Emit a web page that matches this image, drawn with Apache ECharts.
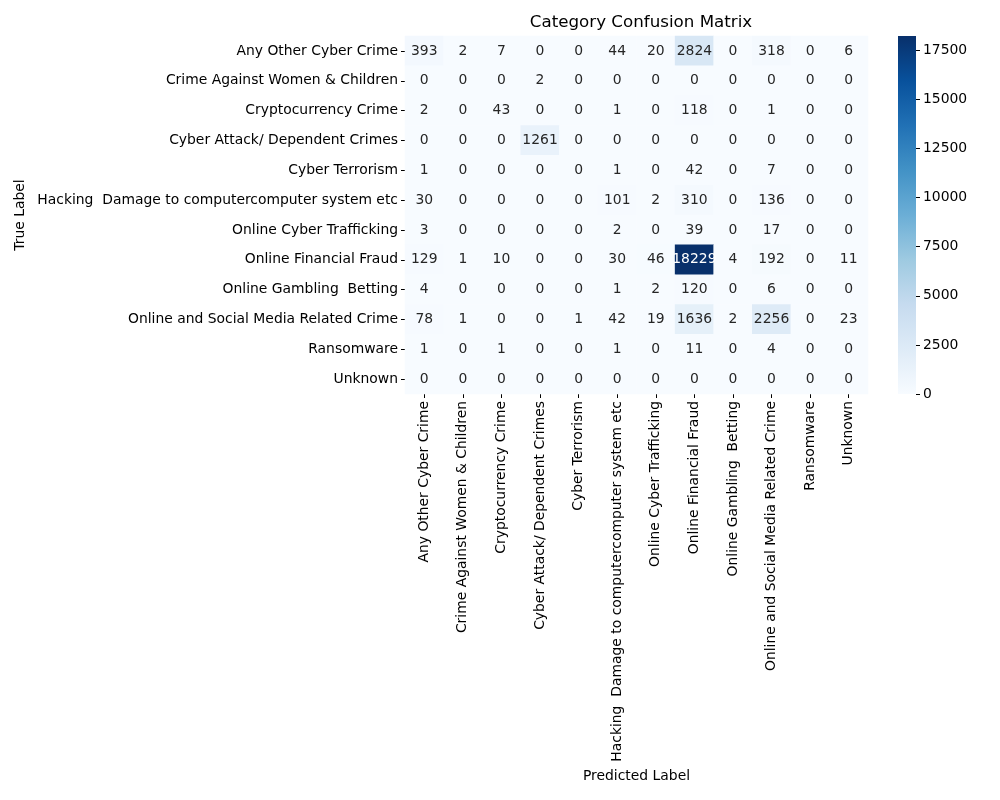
<!DOCTYPE html>
<html>
<head>
<meta charset="utf-8">
<script src="https://cdn.jsdelivr.net/npm/echarts@6/dist/echarts.min.js"></script>
<style>html,body{margin:0;padding:0;background:#fff}#chart{width:1000px;height:800px}</style>
</head>
<body>
<div id="chart"></div>
<script>
const categories = [
  'Any Other Cyber Crime',
  'Crime Against Women & Children',
  'Cryptocurrency Crime',
  'Cyber Attack/ Dependent Crimes',
  'Cyber Terrorism',
  'Hacking  Damage to computercomputer system etc',
  'Online Cyber Trafficking',
  'Online Financial Fraud',
  'Online Gambling  Betting',
  'Online and Social Media Related Crime',
  'Ransomware',
  'Unknown'
];
const rowAnyOther   = [393, 2, 7, 0, 0, 44, 20, 2824, 0, 318, 0, 6];
const rowWomenChild = [0, 0, 0, 2, 0, 0, 0, 0, 0, 0, 0, 0];
const rowCrypto     = [2, 0, 43, 0, 0, 1, 0, 118, 0, 1, 0, 0];
const rowAttack     = [0, 0, 0, 1261, 0, 0, 0, 0, 0, 0, 0, 0];
const rowTerror     = [1, 0, 0, 0, 0, 1, 0, 42, 0, 7, 0, 0];
const rowHacking    = [30, 0, 0, 0, 0, 101, 2, 310, 0, 136, 0, 0];
const rowTraffick   = [3, 0, 0, 0, 0, 2, 0, 39, 0, 17, 0, 0];
const rowFinancial  = [129, 1, 10, 0, 0, 30, 46, 18229, 4, 192, 0, 11];
const rowGambling   = [4, 0, 0, 0, 0, 1, 2, 120, 0, 6, 0, 0];
const rowSocial     = [78, 1, 0, 0, 1, 42, 19, 1636, 2, 2256, 0, 23];
const rowRansom     = [1, 0, 1, 0, 0, 1, 0, 11, 0, 4, 0, 0];
const rowUnknown    = [0, 0, 0, 0, 0, 0, 0, 0, 0, 0, 0, 0];
const counts = [rowAnyOther, rowWomenChild, rowCrypto, rowAttack, rowTerror, rowHacking,
  rowTraffick, rowFinancial, rowGambling, rowSocial, rowRansom, rowUnknown];
const colorbarTicks = [0, 2500, 5000, 7500, 10000, 12500, 15000, 17500];

const blues = ['#f7fbff','#deebf7','#c6dbef','#9ecae1','#6baed6','#4292c6','#2171b5','#08519c','#08306b'];
const vmax = Math.max(...counts.map(r => Math.max(...r)));
const FONT = 'DejaVu Sans';

const heatData = [];
counts.forEach((row, i) => row.forEach((v, j) => {
  heatData.push({
    value: [j, i, v],
    label: { color: v > vmax * 0.55 ? '#ffffff' : '#262626' }
  });
}));

const chart = echarts.init(document.getElementById('chart'), null, {renderer: 'canvas'});
chart.setOption({
  backgroundColor: '#ffffff',
  animation: false,
  textStyle: { fontFamily: FONT },
  title: {
    text: 'Category Confusion Matrix',
    left: 636, top: 9, textAlign: 'center',
    textStyle: { fontFamily: FONT, fontSize: 16.7, fontWeight: 'normal', color: '#000' }
  },
  grid: [
    { left: 405, top: 36, width: 463, height: 358 },
    { left: 898, top: 36, width: 18, height: 358 }
  ],
  xAxis: [
    {
      type: 'category', data: categories, gridIndex: 0,
      position: 'bottom',
      name: 'Predicted Label', nameLocation: 'middle', nameGap: 375,
      nameTextStyle: { fontFamily: FONT, fontSize: 13.9, color: '#000' },
      axisLine: { show: false },
      axisTick: { show: true, alignWithLabel: true, length: 4, lineStyle: { color: '#000' } },
      axisLabel: { rotate: 90, interval: 0, margin: 7, fontFamily: FONT, fontSize: 13.9, color: '#000' },
      splitLine: { show: false }
    },
    {
      type: 'category', data: ['cb'], gridIndex: 1, show: false
    }
  ],
  yAxis: [
    {
      type: 'category', data: categories, gridIndex: 0, inverse: true,
      name: 'True Label', nameLocation: 'middle', nameGap: 378, nameRotate: 90,
      nameTextStyle: { fontFamily: FONT, fontSize: 13.9, color: '#000' },
      axisLine: { show: false },
      axisTick: { show: true, alignWithLabel: true, length: 4, lineStyle: { color: '#000' } },
      axisLabel: { interval: 0, margin: 7, fontFamily: FONT, fontSize: 13.9, color: '#000' },
      splitLine: { show: false }
    },
    {
      type: 'value', gridIndex: 1, position: 'right', min: 0, max: vmax, interval: 2500,
      axisLine: { show: false },
      axisTick: { show: true, length: 4, lineStyle: { color: '#000' } },
      axisLabel: { margin: 7, showMaxLabel: false, fontFamily: FONT, fontSize: 13.9, color: '#000',
        formatter: v => colorbarTicks.includes(v) ? String(v) : '' },
      splitLine: { show: false }
    }
  ],
  visualMap: {
    show: false, type: 'continuous', min: 0, max: vmax, dimension: 2, seriesIndex: 0,
    inRange: { color: blues }
  },
  series: [
    {
      type: 'heatmap', xAxisIndex: 0, yAxisIndex: 0, data: heatData,
      label: { show: true, fontFamily: FONT, fontSize: 13.9, formatter: p => String(p.value[2]) },
      itemStyle: { borderWidth: 0 },
      emphasis: { disabled: true }
    },
    {
      type: 'bar', xAxisIndex: 1, yAxisIndex: 1, data: [vmax], barWidth: '100%',
      itemStyle: {
        color: {
          type: 'linear', x: 0, y: 1, x2: 0, y2: 0,
          colorStops: blues.map((c, k) => ({ offset: k / (blues.length - 1), color: c }))
        }
      },
      silent: true
    }
  ]
});
</script>
</body>
</html>
